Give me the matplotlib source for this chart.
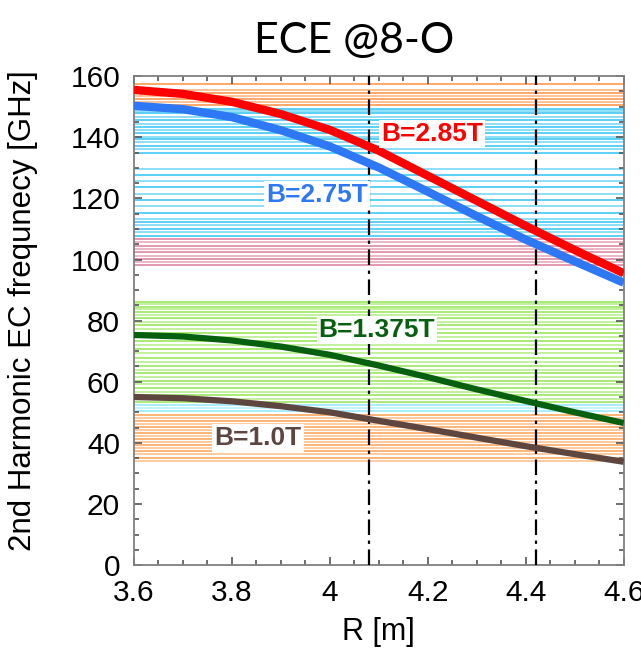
import numpy as np
import matplotlib.pyplot as plt
from matplotlib.ticker import MultipleLocator

# radius [m]
R = [3.6, 3.7, 3.8, 3.9, 4.0, 4.1, 4.2, 4.3, 4.4, 4.5, 4.6]

# 2nd harmonic EC frequency [GHz]
f_285 = [155.5, 154.2, 151.6, 147.6, 142.4, 135.6, 127.4, 119.2, 111.0, 103.1, 95.5]
f_275 = [150.3, 149.2, 146.6, 142.3, 137.0, 130.1, 122.2, 114.2, 106.5, 99.4, 92.4]
f_1375 = [75.3, 74.8, 73.5, 71.5, 68.8, 65.3, 61.5, 57.5, 53.7, 50.0, 46.5]
f_10 = [55.0, 54.6, 53.6, 52.0, 50.0, 47.2, 44.5, 41.7, 38.9, 36.3, 33.8]

# ECE channel frequencies [GHz], by band
ch_orange_hi = [157.4, 155.4, 154.5, 153.5, 152.5, 151.6, 150.7]
ch_cyan_hi = [149.4, 148.6, 147.8, 146.7, 145.6, 144.5, 143.4, 142.3, 141.3, 140.1,
              139.3, 138.4, 137.3, 136.2, 134.7, 129.5, 127.6, 125.8, 123.6, 121.5,
              119.4, 117.4, 115.3, 113.4, 112.3, 111.3, 110.0, 108.9, 107.8]
ch_pink = [106.7, 105.6, 104.5, 103.4, 102.3, 101.2, 100.1, 99.1, 98.2]
ch_green = [86.2, 85.3, 84.5, 83.7, 82.7, 81.8, 80.8, 79.7, 78.5, 77.2, 76.0, 74.7,
            73.4, 72.0, 70.6, 69.3, 67.8, 66.5, 65.2, 64.0, 62.8, 61.6, 60.4, 59.2,
            58.0, 56.8, 55.6, 54.4, 53.3]
ch_cyan_lo = [52.3, 51.3, 50.3]
ch_orange_lo = [49.2, 48.2, 47.2, 46.2, 45.2, 44.2, 43.2, 42.2, 41.2, 40.2, 39.2,
                38.2, 37.2, 36.2, 35.2, 34.2]

R_cut = [4.08, 4.42]

fig = plt.figure(figsize=(6.41, 6.51), dpi=100)
ax = fig.add_axes([0.209, 0.132, 0.764, 0.751])

bands = [(ch_orange_hi, '#FF9040'), (ch_cyan_hi, '#30C4F4'), (ch_pink, '#DC7C98'),
         (ch_green, '#92E650'), (ch_cyan_lo, '#90EAFF'), (ch_orange_lo, '#FFA050')]
for chans, col in bands:
    for i, f in enumerate(chans):
        ax.axhline(f, color=col, lw=1.1, alpha=1.0 if i % 2 == 0 else 0.7, zorder=1)

for r in R_cut:
    ax.axvline(r, color='black', lw=1.6, ls=(0, (7, 2.5, 1.5, 2.5)), zorder=3)

line = dict(solid_capstyle='butt', solid_joinstyle='round', zorder=4)
ax.plot(R, f_285, color='#FF0000', lw=6, **line)
ax.plot(R, f_275, color='#2F78F5', lw=6, **line)
ax.plot(R, f_1375, color='#06600F', lw=4.5, **line)
ax.plot(R, f_10, color='#5E4640', lw=4.5, **line)

box = dict(facecolor='white', edgecolor='none', pad=1.5)
lbl = dict(fontsize=19, fontweight='bold', family='Liberation Sans',
           ha='center', va='center', bbox=box, zorder=5)
ax.text(4.208, 141, 'B=2.85T', color='#FF0000', **lbl)
ax.text(3.973, 121, 'B=2.75T', color='#2F78F5', **lbl)
ax.text(4.096, 77, 'B=1.375T', color='#06600F', **lbl)
ax.text(3.853, 41.5, 'B=1.0T', color='#5E4640', **lbl)

ax.set_xlim(3.6, 4.6)
ax.set_ylim(0, 160)
ax.xaxis.set_minor_locator(MultipleLocator(0.05))
ax.yaxis.set_major_locator(MultipleLocator(20))
ax.yaxis.set_minor_locator(MultipleLocator(5))
ax.set_xticks([3.6, 3.8, 4.0, 4.2, 4.4, 4.6])
ax.set_xticklabels(['3.6', '3.8', '4', '4.2', '4.4', '4.6'])
ax.tick_params(which='both', direction='in', top=True, right=True, color='#555555', width=1.2)
ax.tick_params(which='major', length=6, labelsize=21.5, pad=10)
ax.tick_params(which='minor', length=3.5)
for lab in ax.get_xticklabels() + ax.get_yticklabels():
    lab.set_family('Liberation Sans')
for s in ax.spines.values():
    s.set_color('#808080')
    s.set_linewidth(1.3)

ax.set_xlabel('R [m]', fontsize=22, family='Liberation Sans', labelpad=7)
ax.set_ylabel('2nd Harmonic EC frequnecy [GHz]', fontsize=22.5, family='Liberation Sans')
ax.yaxis.set_label_coords(-0.195, 0.52)

fig.text(0.552, 0.919, 'ECE @8-O', fontsize=31, family='Lato', ha='center', va='baseline')

fig.savefig('out.png', dpi=100)
